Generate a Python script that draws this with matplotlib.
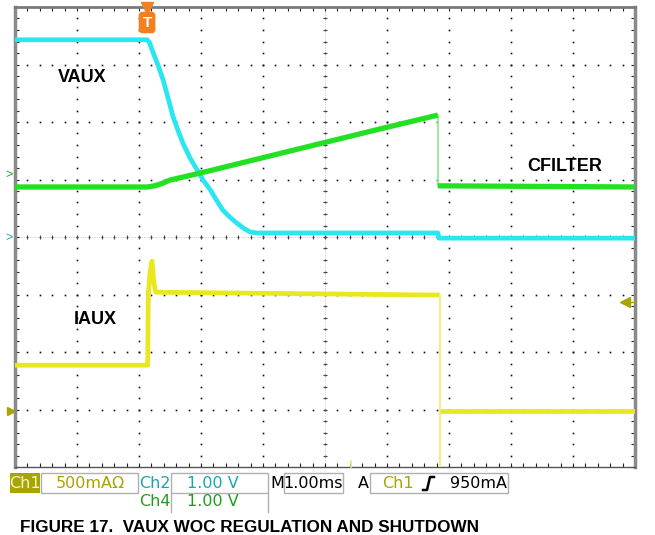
import matplotlib.pyplot as plt
import numpy as np
from matplotlib.patches import Rectangle

plt.rcParams['font.family'] = ['Liberation Sans', 'DejaVu Sans']

# waveforms
# time in ms (1 ms/div, 0 = left edge), level in divisions from the bottom edge
t_vaux = [0, 2.13, 2.17, 2.23, 2.31, 2.39, 2.47, 2.55, 2.63, 2.71, 2.82, 2.94, 3.04, 3.15,
          3.25, 3.35, 3.47, 3.58, 3.69, 3.79, 3.90, 4.00, 6.82, 6.84, 10]
v_vaux = [7.43, 7.43, 7.38, 7.20, 6.98, 6.73, 6.41, 6.09, 5.85, 5.63, 5.38, 5.16, 4.98, 4.82,
          4.64, 4.47, 4.34, 4.24, 4.15, 4.09, 4.07, 4.07, 4.07, 3.98, 3.98]

t_cfilt_ramp = [0, 2.13, 2.25, 2.37, 2.50, 2.74, 2.98, 3.47, 4.00, 5.89, 6.82]
v_cfilt_ramp = [4.87, 4.87, 4.89, 4.93, 4.99, 5.05, 5.11, 5.24, 5.38, 5.88, 6.12]
t_cfilt_off = [6.82, 10]
v_cfilt_off = [4.89, 4.87]

t_iaux_on = [0, 2.14, 2.15, 2.18, 2.21, 2.24, 2.27, 6.85]
v_iaux_on = [1.77, 1.77, 3.00, 3.40, 3.58, 3.20, 3.04, 2.99]
t_iaux_off = [6.86, 10]
v_iaux_off = [0.97, 0.97]

trig_time = 2.13
trig_level = 2.87
gnd_ch1, gnd_ch2, gnd_ch4 = 0.97, 3.98, 5.08

c_cyan = '#2ae6f0'
c_green = '#22e022'
c_yellow = '#e8e81c'
c_olive = '#a8a400'

W, H = 655, 535
fig = plt.figure(figsize=(W / 100, H / 100), dpi=100)
ax = fig.add_axes([15 / W, 1 - 467 / H, 620 / W, 460 / H])
ax.set_xlim(0, 10)
ax.set_ylim(0, 8)

# graticule: dotted lines, one dot per 0.2 div
fine_x = np.arange(0, 10.01, 0.2)
fine_y = np.arange(0, 8.01, 0.2)
for gx in range(1, 10):
    ax.plot(np.full_like(fine_y, gx), fine_y, ls='none', marker='s', ms=1.2, mew=0, color='#111111', zorder=1)
for gy in range(1, 8):
    ax.plot(fine_x, np.full_like(fine_x, gy), ls='none', marker='s', ms=1.2, mew=0, color='#111111', zorder=1)
# centre cross with small ticks
ax.axhline(4, color='#aaaaaa', lw=0.5, ls=(0, (1, 1.5)), zorder=1)
ax.axvline(5, color='#aaaaaa', lw=0.5, ls=(0, (1, 1.5)), zorder=1)
ax.plot(fine_x, np.full_like(fine_x, 4), ls='none', marker='|', ms=3.5, mew=0.7, color='#444444', zorder=1)
ax.plot(np.full_like(fine_y, 5), fine_y, ls='none', marker='_', ms=3.5, mew=0.7, color='#444444', zorder=1)

ax.set_xticks(range(0, 11))
ax.set_yticks(range(0, 9))
ax.set_xticks(fine_x, minor=True)
ax.set_yticks(fine_y, minor=True)
ax.tick_params(which='both', direction='in', length=3, width=0.8, color='#222222',
               top=True, right=True, labelbottom=False, labelleft=False)
for side in ['left', 'right']:
    ax.spines[side].set_linewidth(2.5)
    ax.spines[side].set_color('#8a8a8a')
ax.spines['top'].set_linewidth(2)
ax.spines['top'].set_color('#7a7a7a')
ax.spines['bottom'].set_linewidth(1)
ax.spines['bottom'].set_color('#555555')

# traces
ax.plot(t_vaux, v_vaux, color=c_cyan, lw=3.4, solid_capstyle='butt', solid_joinstyle='round', zorder=3)
ax.plot(t_cfilt_ramp, v_cfilt_ramp, color=c_green, lw=3.8, solid_capstyle='butt', solid_joinstyle='round', zorder=4)
ax.plot([t_cfilt_ramp[-1], t_cfilt_off[0]], [v_cfilt_ramp[-1], v_cfilt_off[0]], color='#8ee88e', lw=1.2, zorder=3)
ax.plot(t_cfilt_off, v_cfilt_off, color=c_green, lw=3.8, solid_capstyle='butt', zorder=4)
ax.plot(t_iaux_on, v_iaux_on, color=c_yellow, lw=3.4, solid_capstyle='butt', solid_joinstyle='round', zorder=3)
ax.plot([t_iaux_on[-1], t_iaux_on[-1]], [v_iaux_on[-1], -0.3], color='#f0f07a', lw=1.4, zorder=3)
ax.plot(t_iaux_off, v_iaux_off, color=c_yellow, lw=3.4, solid_capstyle='butt', zorder=3)

# labels
lab = dict(fontsize=13, fontweight='bold', color='black', va='center', ha='left')
ax.text(0.69, 6.77, 'VAUX', **lab)
ax.text(8.27, 5.23, 'CFILTER', **lab)
ax.text(0.94, 2.57, 'IAUX', **lab)

# trigger marker
ax.plot([trig_time], [7.98], marker='v', ms=8, color='#f47f1f', clip_on=False, zorder=6)
ax.text(trig_time, 7.73, 'T', ha='center', va='center', color='white', fontsize=11, fontweight='bold',
        bbox=dict(boxstyle='round,pad=0.2', fc='#f47f1f', ec='#f47f1f'), zorder=6)
# trigger level marker on the right
ax.plot([9.84], [trig_level], marker='<', ms=7, color=c_olive, clip_on=False, zorder=6)
ax.plot([9.84, 10], [trig_level, trig_level], color=c_olive, lw=1, clip_on=False, zorder=6)
# ground markers on the left
ax.text(-0.09, gnd_ch4, '>', color='#22a022', fontsize=9, ha='center', va='center', clip_on=False)
ax.text(-0.09, gnd_ch2, '>', color='#20a8b0', fontsize=9, ha='center', va='center', clip_on=False)
ax.plot([-0.07], [gnd_ch1], marker='>', ms=6, color=c_olive, clip_on=False)

# status bar in pixel coordinates
ov = fig.add_axes([0, 0, 1, 1])
ov.set_xlim(0, W)
ov.set_ylim(H, 0)
ov.axis('off')
ov.plot([351, 351], [461, 467], color='#f0e878', lw=1.2)

sb = dict(fontsize=11.5, family='DejaVu Sans', va='center')
ov.add_patch(Rectangle((10, 473), 30, 20, fc=c_olive, ec='none'))
ov.text(25, 483, 'Ch1', color='#f4f4d4', ha='center', **sb)
ov.add_patch(Rectangle((41, 473), 97, 20, fill=False, ec='#b0b0b0', lw=1))
ov.text(90, 483, '500mA\u03a9', color=c_olive, ha='center', **sb)
ov.text(155, 483, 'Ch2', color='#1aa6ac', ha='center', **sb)
ov.add_patch(Rectangle((171, 473), 97, 20, fill=False, ec='#b0b0b0', lw=1))
ov.text(213, 483, '1.00 V', color='#1aa6ac', ha='center', **sb)
ov.text(155, 502, 'Ch4', color='#1e9e1e', ha='center', **sb)
ov.plot([171, 171], [493, 512], color='#b0b0b0', lw=1)
ov.plot([268, 268], [493, 512], color='#b0b0b0', lw=1)
ov.text(213, 502, '1.00 V', color='#1e9e1e', ha='center', **sb)
ov.text(277, 483, 'M', color='black', ha='center', **sb)
ov.add_patch(Rectangle((284, 473), 59, 20, fill=False, ec='#b0b0b0', lw=1))
ov.text(313, 483, '1.00ms', color='black', ha='center', **sb)
ov.text(363, 483, 'A', color='black', ha='center', **sb)
ov.add_patch(Rectangle((370, 473), 138, 20, fill=False, ec='#b0b0b0', lw=1))
ov.text(398, 483, 'Ch1', color=c_olive, ha='center', **sb)
ov.plot([423, 427, 430, 434], [490, 490, 477, 477], color='black', lw=1.8)
ov.text(507, 483, '950mA', color='black', ha='right', **sb)

fig.text(20 / W, 1 - 532 / H, 'FIGURE 17.  VAUX WOC REGULATION AND SHUTDOWN',
         fontsize=12.3, fontweight='bold', va='baseline', ha='left')

fig.savefig('out.png', dpi=100)
